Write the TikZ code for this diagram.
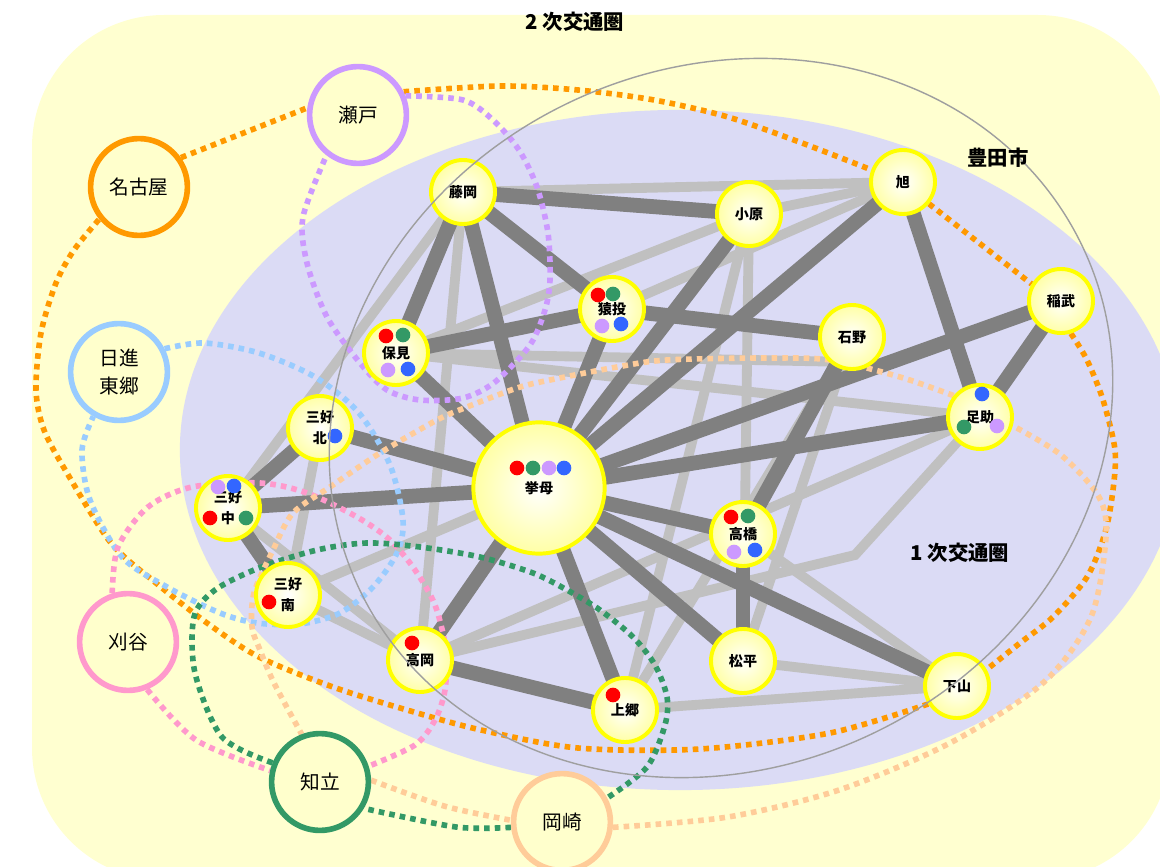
\documentclass[tikz,border=0pt]{standalone}
\usepackage{fontspec}
\newfontfamily\jp{Noto Sans CJK JP}
\pgfdeclarelayer{back}
\pgfdeclarelayer{edges}
\pgfdeclarelayer{links}
\pgfdeclarelayer{fore}
\pgfsetlayers{back,edges,links,main,fore}

\definecolor{areaout}{RGB}{255,255,208}
\definecolor{areain}{RGB}{219,219,245}
\definecolor{mainline}{RGB}{128,128,128}
\definecolor{subline}{RGB}{192,192,192}
\definecolor{townrim}{RGB}{255,255,0}
\definecolor{townfill}{RGB}{255,255,165}
\definecolor{cityfill}{RGB}{255,255,204}
\definecolor{cnagoya}{RGB}{255,153,0}
\definecolor{cseto}{RGB}{204,153,255}
\definecolor{cnisshin}{RGB}{153,204,255}
\definecolor{ckariya}{RGB}{255,153,204}
\definecolor{cchiryu}{RGB}{51,153,102}
\definecolor{cokazaki}{RGB}{255,204,153}
\definecolor{dotred}{RGB}{255,0,0}
\definecolor{dotgreen}{RGB}{51,153,102}
\definecolor{dotpurple}{RGB}{204,153,255}
\definecolor{dotblue}{RGB}{51,102,255}

\tikzset{
  town/.style={circle, draw=townrim, line width=2.8pt, minimum size=1.6cm, inner sep=0pt,
    inner color=white, outer color=townfill, align=center,
    font=\jp\bfseries\fontsize{10}{15}\selectfont},
  bigtown/.style={town, minimum size=3.28cm},
  city/.style={circle, draw=#1, line width=4pt, minimum size=2.42cm, inner sep=0pt,
    fill=cityfill, align=center, font=\jp\fontsize{14}{20}\selectfont},
  heavy/.style={draw=mainline, line width=10.5pt},
  light/.style={draw=subline, line width=7pt},
  trip/.style={draw=#1, line width=4pt, dash pattern=on 4pt off 3.6pt},
  title/.style={font=\jp\bfseries\fontsize{14.5}{17}\selectfont},
}

\begin{document}
\begin{tikzpicture}[x=0.025cm, y=-0.025cm]
  \useasboundingbox (0,0) rectangle (1160,867);

  % areas
  \begin{pgfonlayer}{back}
    \fill[areaout, rounded corners=3.3cm] (32,15) rectangle (1170,880);
    \fill[areain] (680,450) ellipse [x radius=12.5cm, y radius=8.5cm];
  \end{pgfonlayer}

  % outer cities
  \node[city=cseto] (seto) at (358,115) {瀬戸};
  \node[city=cnagoya] (nagoya) at (139,187) {名古屋};
  \node[city=cnisshin] (nisshin) at (119,372) {日進\\東郷};
  \node[city=ckariya] (kariya) at (128,642) {刈谷};
  \node[city=cchiryu] (chiryu) at (320,782) {知立};
  \node[city=cokazaki] (okazaki) at (562,822) {岡崎};

  % towns of Toyota
  \node[town] (fujioka) at (463,192) {藤岡};
  \node[town] (obara) at (749,214) {小原};
  \node[town] (asahi) at (903,182) {旭};
  \node[town] (inabu) at (1061,301) {稲武};
  \node[town] (sanage) at (612,309) {猿投};
  \node[town] (homi) at (396,353) {保見};
  \node[town] (ishino) at (852,337) {石野};
  \node[town] (asuke) at (980,417) {足助};
  \node[town] (mkita) at (320,428) {三好\\北};
  \node[bigtown] (koromo) at (539,488) {挙母};
  \node[town] (mnaka) at (228,508) {三好\\中};
  \node[town] (takahashi) at (743,534) {高橋};
  \node[town] (mminami) at (288,595) {三好\\南};
  \node[town] (takaoka) at (420,660) {高岡};
  \node[town] (matsudaira) at (743,661) {松平};
  \node[town] (shimoyama) at (957,686) {下山};
  \node[town] (kamigo) at (625,710) {上郷};

  % stops
  \foreach \n/\c/\dx/\dy in {koromo/dotred/-22/-20, koromo/dotgreen/-6/-20, koromo/dotpurple/10/-20, koromo/dotblue/25/-20,
      sanage/dotred/-14/-14, sanage/dotgreen/1/-15, sanage/dotpurple/-10/17, sanage/dotblue/9/15,
      homi/dotred/-10/-17, homi/dotgreen/7/-18, homi/dotpurple/-8/17, homi/dotblue/12/16,
      takahashi/dotred/-12/-17, takahashi/dotgreen/5/-18, takahashi/dotpurple/-9/18, takahashi/dotblue/12/16,
      asuke/dotblue/2/-23, asuke/dotgreen/-16/10, asuke/dotpurple/17/9,
      mkita/dotblue/15/8,
      mnaka/dotpurple/-10/-21, mnaka/dotblue/6/-22, mnaka/dotred/-18/10, mnaka/dotgreen/18/10,
      mminami/dotred/-19/7, takaoka/dotred/-8/-17, kamigo/dotred/-12/-15}
    \fill[\c] ([shift={(\dx,\dy)}]\n.center) circle (5.2pt);

  % roads
  \begin{pgfonlayer}{edges}
    \foreach \a/\b in {fujioka/asahi, obara/asahi, sanage/asahi, homi/obara, mnaka/fujioka,
        fujioka/takaoka, mkita/mminami, mnaka/takaoka, mminami/koromo, mminami/takaoka,
        takaoka/asuke, kamigo/shimoyama, matsudaira/shimoyama, matsudaira/ishino,
        obara/matsudaira, homi/asuke, kamigo/obara, kamigo/ishino, takahashi/shimoyama}
      \draw[light] (\a.center) -- (\b.center);
    \draw[light] (homi.center) -- ([shift={(0,25)}]ishino.center);
    \draw[light] (takaoka.center) -- (855,555) -- (asuke.center);
    \foreach \a/\b in {fujioka/obara, fujioka/homi, fujioka/koromo, fujioka/sanage,
        sanage/ishino, sanage/koromo, homi/sanage, homi/koromo, asahi/asuke, asahi/koromo,
        obara/koromo, inabu/koromo, inabu/asuke, asuke/koromo, ishino/takahashi,
        takahashi/matsudaira, koromo/takahashi, koromo/shimoyama, koromo/matsudaira,
        koromo/kamigo, koromo/takaoka, takaoka/kamigo, koromo/mkita, koromo/mnaka,
        mkita/mnaka, mnaka/mminami}
      \draw[heavy] (\a.center) -- (\b.center);
  \end{pgfonlayer}

  % trips to the cities around
  \begin{pgfonlayer}{links}
    \draw[trip=cnagoya] (nagoya.35) -- (seto.172);
    \draw[trip=cnagoya] plot[smooth] coordinates {(seto.27) (500,86) (578,90) (654,100) (728,117) (802,143) (asahi.159)};
    \draw[trip=cnagoya] (asahi.-40) -- (inabu.150);
    \draw[trip=cnagoya] plot[smooth] coordinates {(inabu.-73) (1087,360) (1103,400) (1115,450) (1113,490) (1105,533) (1087,577) (1053,617) (1020,643) (shimoyama.29)};
    \draw[trip=cnagoya] plot[smooth] coordinates {(shimoyama.212) (830,733) (700,749) (578,748) (481,730) (407,710) (333,687) (259,657) (207,623) (156,583) (111,543) (67,473) (44,430) (36,390) (41,333) (56,283) (74,250) (nagoya.219)};

    \draw[trip=cseto] plot[smooth] coordinates {(seto.22) (463,100) (493,120) (519,150) (537,187) (548,233) (550,280) (545,310) (530,345) (495,382) (463,398) (420,400) (387,390) (360,363) (327,317) (307,263) (303,217) (seto.232)};

    \draw[trip=cnisshin] plot[smooth] coordinates {(nisshin.27) (204,343) (259,353) (315,377) (359,413) (390,465) (403,520) (397,553) (373,587) (340,613) (300,624) (257,623) (220,613) (167,587) (122,557) (90,500) (82,450) (nisshin.240)};

    \draw[trip=ckariya] plot[smooth] coordinates {(kariya.108) (118,547) (148,507) (192,487) (260,483) (307,493) (357,517) (390,540) (415,570) (435,605) (446,650) (445,690) (435,720) (415,745) (chiryu.18)};
    \draw[trip=ckariya] plot[smooth] coordinates {(kariya.-68) (196,740) (chiryu.167)};

    \draw[trip=cchiryu] plot[smooth] coordinates {(chiryu.158) (222,737) (195,673) (194,617) (215,590) (259,568) (317,550) (367,543) (420,547) (480,557) (533,573) (567,590) (600,610) (633,637) (655,665) (667,697) (665,725) (647,767) (okazaki.28)};
    \draw[trip=cchiryu] plot[smooth] coordinates {(okazaki.186) (456,827) (chiryu.-31)};

    \draw[trip=cokazaki] plot[smooth] coordinates {(okazaki.-6) (728,817) (839,790) (950,743) (1043,683) (1091,617) (1106,537) (1099,497) (1061,455) (asuke.-15)};
    \draw[trip=cokazaki] plot[smooth] coordinates {(asuke.141) (900,377) (830,360) (767,358) (667,360) (617,367) (550,380) (517,388) (467,407) (437,420) (380,453) (330,487) (293,513) (273,550) (254,593) (252,627) (260,650) (274,683) (chiryu.111)};
    \draw[trip=cokazaki] plot[smooth] coordinates {(chiryu.2) (444,806) (okazaki.178)};
  \end{pgfonlayer}

  % city boundary and titles
  \begin{pgfonlayer}{fore}
    \draw[gray!75, line width=1pt, rotate around={25:(721,418)}] (721,418) ellipse [x radius=10cm, y radius=8.75cm];
    \node[title] (ring2) at (575,22) {2 次交通圏};
    \node[title] (toyota) at (998,158) {豊田市};
    \node[title] (ring1) at (960,553) {1 次交通圏};
  \end{pgfonlayer}
\end{tikzpicture}
\end{document}
